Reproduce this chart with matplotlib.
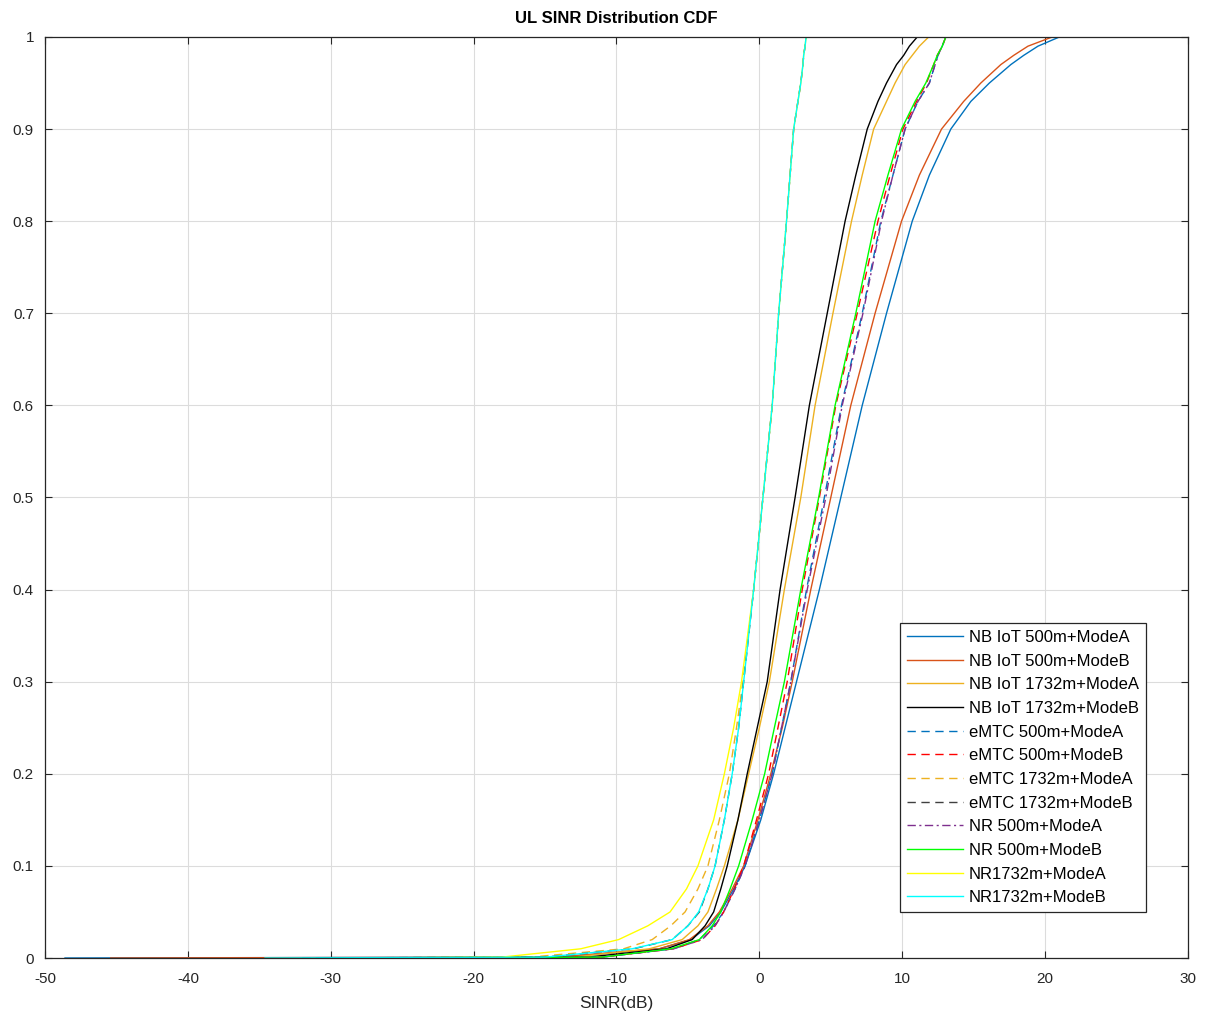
import numpy as np
import matplotlib.pyplot as plt

plt.rcParams['font.family'] = ['Liberation Sans', 'DejaVu Sans']
plt.rcParams['axes.unicode_minus'] = False

cdf = [0, 0.001, 0.01, 0.02, 0.035, 0.05, 0.075, 0.1, 0.15, 0.2, 0.25, 0.3, 0.4, 0.5,
       0.6, 0.7, 0.8, 0.85, 0.9, 0.93, 0.95, 0.97, 0.98, 0.99, 1.0, 1.0]

nbiot_500_a = [-48.6, -14, -7, -4.8, -3.5, -2.7, -1.8, -1.0, 0.1, 1.0, 1.8, 2.6, 4.2, 5.7,
               7.2, 8.9, 10.7, 11.9, 13.4, 14.8, 16.1, 17.6, 18.5, 19.5, 21.0, 24.5]
nbiot_500_b = [-45.4, -14, -7, -4.9, -3.6, -2.8, -1.9, -1.1, -0.1, 0.8, 1.6, 2.3, 3.6, 5.0,
               6.4, 8.1, 9.95, 11.2, 12.75, 14.3, 15.5, 16.9, 17.8, 18.8, 20.5, 22.0]
nbiot_1732_a = [-28, -13, -7.7, -5.4, -4.3, -3.6, -3.0, -2.45, -1.5, -0.75, 0.0, 0.7, 1.75, 2.9,
                3.9, 5.15, 6.45, 7.2, 8.0, 8.9, 9.5, 10.2, 10.7, 11.2, 11.85, 12.3]
nbiot_1732_b = [-31, -12, -6.5, -4.7, -3.8, -3.2, -2.7, -2.25, -1.5, -0.85, -0.15, 0.55, 1.45, 2.5,
                3.5, 4.75, 6.0, 6.75, 7.55, 8.3, 8.9, 9.6, 10.1, 10.5, 11.05, 11.5]
emtc_500_a = [-20.5, -11, -6, -4.2, -3.2, -2.5, -1.7, -1.0, 0.0, 0.9, 1.55, 2.2, 3.3, 4.55,
              5.75, 7.2, 8.5, 9.35, 10.2, 11.1, 11.9, 12.3, 12.5, 12.8, 13.05, 13.2]
emtc_500_b = [-25, -11, -6, -4.0, -3.1, -2.5, -1.75, -1.1, -0.2, 0.65, 1.3, 1.95, 3.0, 4.2,
              5.35, 6.85, 8.3, 9.15, 10.05, 11.0, 11.7, 12.2, 12.45, 12.8, 13.05, 13.2]
emtc_1732_a = [-27, -16, -9.5, -7.5, -6.2, -5.2, -4.3, -3.6, -2.8, -2.1, -1.6, -1.15, -0.4, 0.25,
               0.9, 1.35, 1.9, 2.15, 2.4, 2.7, 2.9, 3.05, 3.1, 3.2, 3.27, 3.4]
emtc_1732_b = [-32, -15, -8.8, -6.1, -5.0, -4.2, -3.6, -3.1, -2.45, -1.9, -1.45, -1.1, -0.4, 0.25,
               0.9, 1.35, 1.9, 2.15, 2.4, 2.7, 2.9, 3.05, 3.1, 3.2, 3.27, 3.4]
nr_500_a = [-22, -11, -6, -4.0, -3.1, -2.5, -1.7, -1.0, 0.0, 0.9, 1.55, 2.2, 3.35, 4.65,
            5.8, 7.25, 8.55, 9.35, 10.2, 11.1, 11.9, 12.3, 12.5, 12.8, 13.05, 13.2]
nr_500_b = [-20, -11, -6.2, -4.2, -3.3, -2.7, -2.05, -1.45, -0.5, 0.37, 1.05, 1.75, 2.9, 4.15,
            5.3, 6.75, 8.1, 9.0, 9.95, 10.9, 11.65, 12.2, 12.45, 12.8, 13.05, 13.2]
nr_1732_a = [-28, -18, -12.5, -9.85, -7.8, -6.25, -5.1, -4.3, -3.2, -2.45, -1.8, -1.25, -0.4, 0.25,
             0.9, 1.35, 1.9, 2.15, 2.4, 2.7, 2.9, 3.05, 3.1, 3.2, 3.27, 3.4]
nr_1732_b = [-34.6, -15, -8.9, -6.1, -5.0, -4.25, -3.6, -3.1, -2.45, -1.9, -1.45, -1.1, -0.4, 0.25,
             0.9, 1.35, 1.9, 2.15, 2.4, 2.7, 2.9, 3.05, 3.1, 3.2, 3.27, 3.4]

series = [
    ("NB IoT 500m+ModeA", nbiot_500_a, "#0072BD", "-"),
    ("NB IoT 500m+ModeB", nbiot_500_b, "#D95319", "-"),
    ("NB IoT 1732m+ModeA", nbiot_1732_a, "#EDB120", "-"),
    ("NB IoT 1732m+ModeB", nbiot_1732_b, "#000000", "-"),
    ("eMTC 500m+ModeA", emtc_500_a, "#0072BD", (0, (6, 4))),
    ("eMTC 500m+ModeB", emtc_500_b, "#FF0000", (0, (6, 4))),
    ("eMTC 1732m+ModeA", emtc_1732_a, "#EDB120", (0, (6, 4))),
    ("eMTC 1732m+ModeB", emtc_1732_b, "#404040", (0, (6, 4))),
    ("NR 500m+ModeA", nr_500_a, "#7E2F8E", (0, (6, 2.5, 1.5, 2.5))),
    ("NR 500m+ModeB", nr_500_b, "#00FF00", "-"),
    ("NR1732m+ModeA", nr_1732_a, "#FFFF00", "-"),
    ("NR1732m+ModeB", nr_1732_b, "#00FFFF", "-"),
]

fig = plt.figure(figsize=(12.1, 10.21), dpi=100)
ax = fig.add_axes([0.0372, 0.0617, 0.9446, 0.9021])

for label, xs, color, ls in series:
    ax.plot(xs, cdf, color=color, ls=ls, lw=1.0, label=label)

ax.set_xlim(-50, 30)
ax.set_ylim(0, 1)
ax.set_xticks(np.arange(-50, 31, 10))
ax.set_yticks(np.arange(0, 1.01, 0.1))
ax.set_yticklabels(["0"] + ["%.1f" % v for v in np.arange(0.1, 0.95, 0.1)] + ["1"])
ax.grid(True, color="#dcdcdc", lw=0.8)
ax.set_axisbelow(True)
ax.tick_params(direction="in", top=True, right=True, length=5, labelsize=11, colors="#262626")
ax.tick_params(axis="x", pad=10)
ax.tick_params(axis="y", pad=8)
for s in ax.spines.values():
    s.set_color("#262626")
    s.set_linewidth(0.9)

ax.set_title("UL SINR Distribution CDF", fontsize=12, fontweight="bold", pad=10)
ax.set_xlabel("SINR(dB)", fontsize=12.5, color="#262626", labelpad=7)

leg = ax.legend(loc="lower right", bbox_to_anchor=(0.963, 0.05), fontsize=12,
                handlelength=3.4, labelspacing=0.52, handletextpad=0.35,
                borderpad=0.4, borderaxespad=0, fancybox=False, framealpha=1,
                edgecolor="#262626")
leg.get_frame().set_linewidth(0.9)

plt.savefig("out.png", dpi=100)
